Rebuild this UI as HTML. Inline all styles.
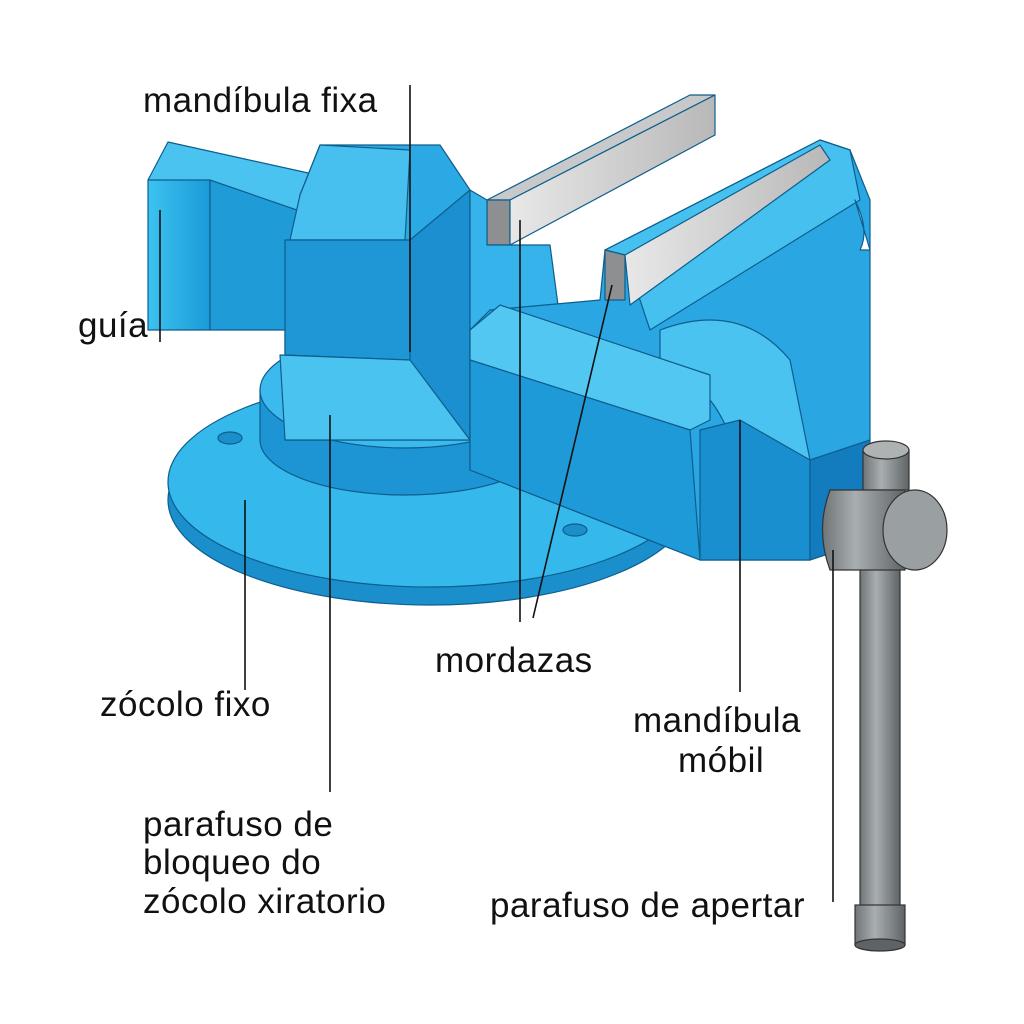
<!DOCTYPE html>
<html><head><meta charset="utf-8"><style>
html,body{margin:0;padding:0;background:#fff;}
svg{display:block}
text{font-family:"Liberation Sans",sans-serif;font-size:35px;fill:#111;letter-spacing:0.5px;}
</style></head><body>
<svg width="1024" height="1024" viewBox="0 0 1024 1024" xmlns="http://www.w3.org/2000/svg">
<defs>
<linearGradient id="g1" x1="0" x2="1"><stop offset="0" stop-color="#3cc3f0"/><stop offset="1" stop-color="#1b9ad8"/></linearGradient>
<linearGradient id="gr" x1="0" x2="1"><stop offset="0" stop-color="#6f7577"/><stop offset="0.4" stop-color="#a9aeb0"/><stop offset="1" stop-color="#5e6466"/></linearGradient>
<linearGradient id="pl" x1="0" x2="1"><stop offset="0" stop-color="#e8e8e8"/><stop offset="1" stop-color="#b8b8b8"/></linearGradient>
</defs>
<g stroke="#0d5e8c" stroke-width="1.2" stroke-linejoin="round">
<ellipse cx="430" cy="500" rx="262" ry="105" fill="#1a8fcc"/>
<ellipse cx="430" cy="482" rx="262" ry="105" fill="#35b8ec"/>
<ellipse cx="230" cy="438" rx="12" ry="6" fill="#1a8fcc"/>
<ellipse cx="575" cy="530" rx="12" ry="6" fill="#1a8fcc"/>
<path d="M260 390 L260 440 A145 55 0 0 0 550 440 L550 390 Z" fill="#1d94d4"/>
<ellipse cx="405" cy="390" rx="145" ry="58" fill="#3dbaed"/>
<polygon points="310,408 322,400 336,402 340,412 328,420 314,418" fill="#2aa7e0"/>
<polygon points="148,180 168,142 340,180 320,218" fill="#4ac3f0"/>
<polygon points="148,180 210,180 210,330 148,330" fill="url(#g1)"/>
<polygon points="210,180 320,218 320,330 210,330" fill="#1f9bd8"/>
<polygon points="300,195 320,145 440,145 470,190 470,440 285,440 285,330" fill="#2ba9e4"/>
<polygon points="300,195 320,145 410,150 405,240 290,240" fill="#47c0ef"/>
<polygon points="285,240 410,240 410,360 285,355" fill="#1f97d6"/>
<polygon points="410,240 470,190 470,440 410,410" fill="#1b8fd0"/>
<polygon points="280,355 410,360 470,440 285,440" fill="#4ac3f0"/>
<polygon points="487,200 690,95 715,95 510,200" fill="#c7c9ca"/>
<polygon points="487,200 510,200 510,245 487,245" fill="#8d8f91"/>
<polygon points="510,200 715,95 715,135 510,245" fill="url(#pl)"/>
<polygon points="470,190 487,200 487,245 550,245 560,320 470,350" fill="#35b3ea"/>
<polygon points="605,250 820,140 850,150 870,200 870,440 810,470 810,560 700,560 470,470 470,330 490,310 600,300" fill="#2aa7e3"/>
<polygon points="605,250 820,140 850,150 860,200 650,330 625,255" fill="#46c0ef"/>
<polygon points="605,250 625,255 625,300 605,300" fill="#8d8f91"/>
<polygon points="625,255 820,145 830,160 630,305" fill="url(#pl)"/>
<path d="M660 330 Q740 300 790 360 L810 460 L740 470 Q720 380 660 370 Z" fill="#4ac3f0"/>
<polygon points="470,330 500,305 710,375 710,420 690,430 470,360" fill="#52c7f2"/>
<polygon points="470,360 690,430 700,560 470,470" fill="#1f9ad8"/>
<polygon points="700,430 740,420 810,460 810,560 700,560" fill="#1a8fd0"/>
<polygon points="810,460 870,440 870,540 810,560" fill="#137cbf"/>
<path d="M855 200 Q870 230 860 250 L870 250 Z" fill="#fff"/>
</g>
<g stroke="#333" stroke-width="1.2">
<rect x="863" y="450" width="46" height="40" fill="url(#gr)"/>
<ellipse cx="886" cy="450" rx="23" ry="9" fill="#aeb2b3"/>
<rect x="860" y="560" width="40" height="360" fill="url(#gr)"/>
<path d="M830 490 L905 490 L905 570 L830 570 Q815 530 830 490 Z" fill="url(#gr)"/>
<ellipse cx="915" cy="530" rx="32" ry="40" fill="#9a9fa1"/>
<rect x="855" y="905" width="50" height="40" fill="url(#gr)"/>
<ellipse cx="880" cy="945" rx="25" ry="6" fill="#5e6466"/>
</g>
<g stroke="#111" stroke-width="1.6" fill="none">
<line x1="410" y1="85" x2="410" y2="352"/>
<line x1="160" y1="210" x2="160" y2="342"/>
<line x1="245" y1="500" x2="245" y2="690"/>
<line x1="330" y1="415" x2="330" y2="792"/>
<line x1="520" y1="220" x2="520" y2="622"/>
<line x1="612" y1="285" x2="533" y2="618"/>
<line x1="740" y1="420" x2="740" y2="692"/>
<line x1="833" y1="550" x2="833" y2="902"/>
</g>
<text x="143" y="112">mandíbula fixa</text>
<text x="78" y="337">guía</text>
<text x="100" y="716">zócolo fixo</text>
<text x="143" y="836">parafuso de</text>
<text x="143" y="874">bloqueo do</text>
<text x="143" y="913">zócolo xiratorio</text>
<text x="435" y="672">mordazas</text>
<text x="633" y="732">mandíbula</text>
<text x="678" y="772">móbil</text>
<text x="490" y="917">parafuso de apertar</text>
</svg>
</body></html>
